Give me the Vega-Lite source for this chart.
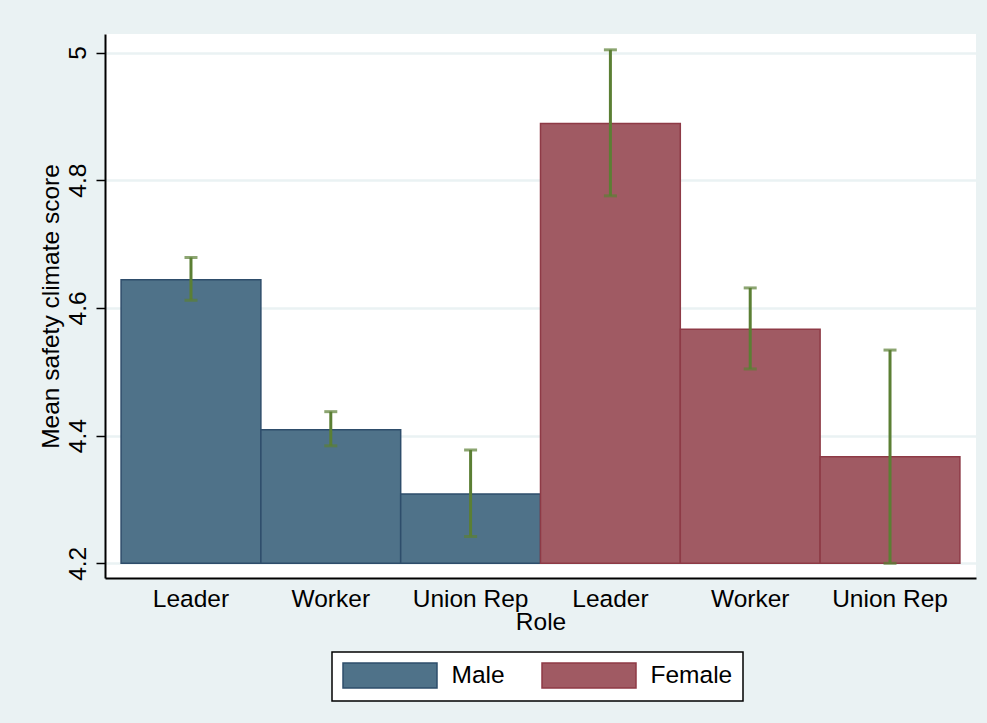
{
  "$schema": "https://vega.github.io/schema/vega-lite/v6.json",
  "width": 871,
  "height": 544,
  "autosize": {"type": "none"},
  "padding": {"left": 105, "top": 34, "right": 11, "bottom": 145},
  "background": "#EAF2F3",
  "data": {
    "values": [
      {"bar": "Male|Leader", "sex": "Male", "role": "Leader", "mean": 4.644, "lo": 4.612, "hi": 4.679},
      {"bar": "Male|Worker", "sex": "Male", "role": "Worker", "mean": 4.409, "lo": 4.384, "hi": 4.4375},
      {"bar": "Male|Union Rep", "sex": "Male", "role": "Union Rep", "mean": 4.3086, "lo": 4.242, "hi": 4.3775},
      {"bar": "Female|Leader", "sex": "Female", "role": "Leader", "mean": 4.8888, "lo": 4.7755, "hi": 5.0042},
      {"bar": "Female|Worker", "sex": "Female", "role": "Worker", "mean": 4.5666, "lo": 4.5044, "hi": 4.6313},
      {"bar": "Female|Union Rep", "sex": "Female", "role": "Union Rep", "mean": 4.367, "lo": 4.2, "hi": 4.534}
    ]
  },
  "encoding": {
    "x": {
      "field": "bar",
      "type": "nominal",
      "sort": null,
      "scale": {"paddingInner": 0, "paddingOuter": 0.115},
      "axis": {
        "title": "Role",
        "labelAngle": 0,
        "labelExpr": "slice(datum.label, indexof(datum.label, '|') + 1)",
        "ticks": false,
        "tickSize": 0,
        "labelPadding": 9,
        "titlePadding": 0,
        "domainColor": "black",
        "domainWidth": 2,
        "grid": false
      }
    }
  },
  "layer": [
    {
      "mark": {"type": "bar", "strokeWidth": 1.5},
      "encoding": {
        "y": {
          "field": "mean",
          "type": "quantitative",
          "scale": {"domain": [4.177, 5.029], "nice": false, "zero": false},
          "axis": {
            "title": "Mean safety climate score",
            "values": [4.2, 4.4, 4.6, 4.8, 5],
            "format": ".1~f",
            "labelAngle": -90,
            "labelAlign": "center",
            "labelBaseline": "alphabetic",
            "labelPadding": 11,
            "tickSize": 9,
            "tickColor": "black",
            "tickWidth": 1.5,
            "domainColor": "black",
            "domainWidth": 2,
            "grid": true,
            "gridColor": "#EAF2F3",
            "gridWidth": 2.5,
            "titlePadding": 2
          }
        },
        "y2": {"datum": 4.2},
        "fill": {
          "field": "sex",
          "type": "nominal",
          "scale": {"domain": ["Male", "Female"], "range": ["#4F7289", "#A05A63"]},
          "legend": {
            "title": null,
            "orient": "none",
            "legendX": 227,
            "legendY": 618,
            "direction": "horizontal",
            "symbolType": "M-3.76,-1H3.76V1H-3.76Z",
            "symbolSize": 625,
            "symbolOffset": 34.5,
            "symbolStrokeWidth": 1.5,
            "symbolOpacity": 1,
            "labelFontSize": 24.5,
            "labelFont": "Liberation Sans",
            "labelColor": "black",
            "labelOffset": 48,
            "columnPadding": 34,
            "padding": 10,
            "fillColor": "white",
            "strokeColor": "black"
          }
        },
        "stroke": {
          "field": "sex",
          "type": "nominal",
          "scale": {"domain": ["Male", "Female"], "range": ["#2E4D6B", "#8E3A46"]},
          "legend": null
        }
      }
    },
    {
      "mark": {"type": "rule", "color": "#5B7F34", "strokeWidth": 3},
      "encoding": {
        "y": {"field": "lo", "type": "quantitative"},
        "y2": {"field": "hi"}
      }
    },
    {
      "mark": {"type": "tick", "color": "#5B7F34", "size": 13, "thickness": 3, "orient": "horizontal"},
      "encoding": {
        "y": {"field": "lo", "type": "quantitative"}
      }
    },
    {
      "mark": {"type": "tick", "color": "#5B7F34", "size": 13, "thickness": 3, "orient": "horizontal"},
      "encoding": {
        "y": {"field": "hi", "type": "quantitative"}
      }
    }
  ],
  "config": {
    "view": {"fill": "white", "stroke": null},
    "font": "Liberation Sans",
    "axis": {
      "labelFont": "Liberation Sans",
      "labelFontSize": 24.5,
      "labelColor": "black",
      "titleFont": "Liberation Sans",
      "titleFontSize": 24.5,
      "titleFontWeight": "normal",
      "titleColor": "black"
    },
    "legend": {"strokeWidth": 1.5}
  }
}
